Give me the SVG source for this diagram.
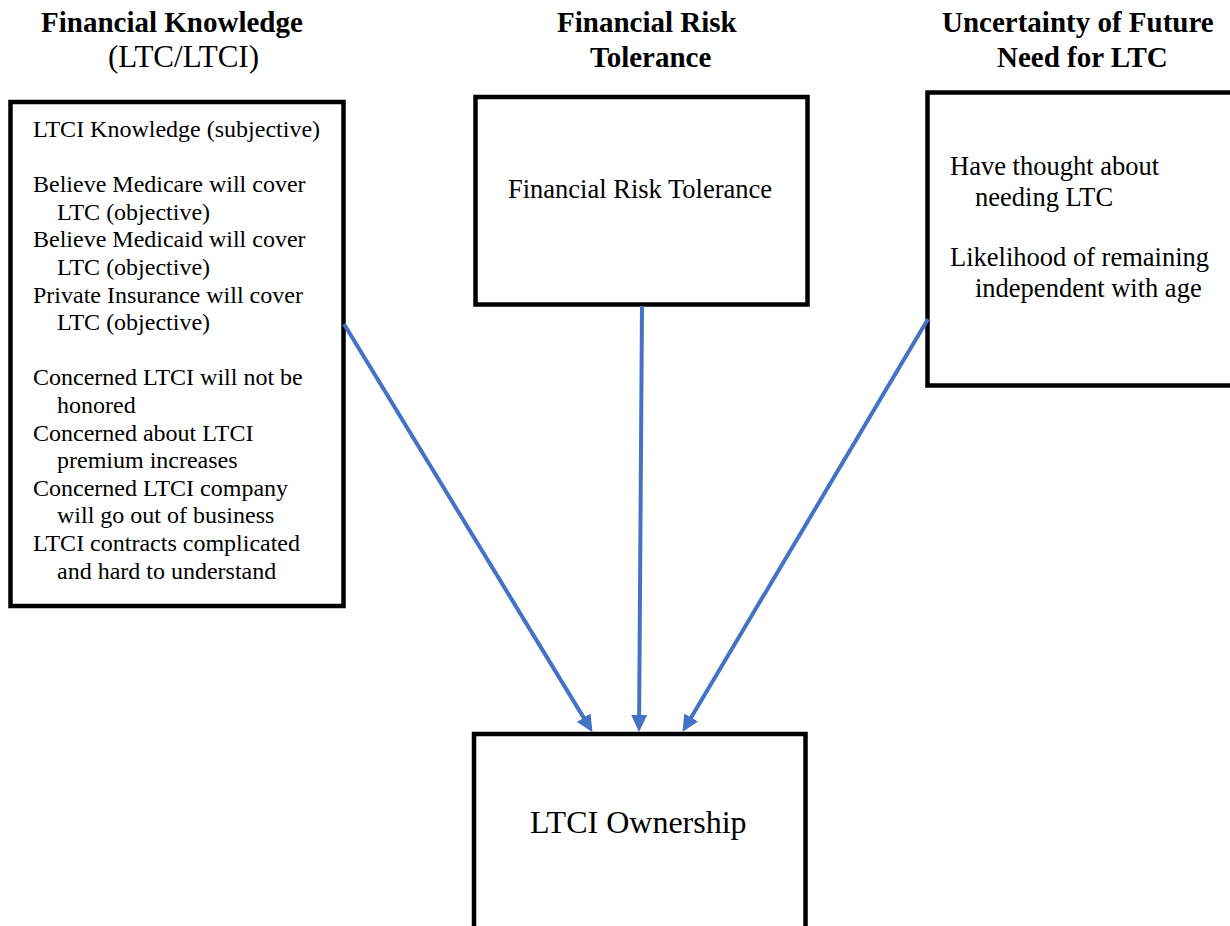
<svg xmlns="http://www.w3.org/2000/svg" width="1230" height="926" viewBox="0 0 1230 926">
<style>
.t{font-family:"Liberation Serif","Times New Roman",serif;fill:#000}
.h{font-weight:bold;font-size:29px}
.box{fill:#fff;stroke:#000;stroke-width:4.5}
.l{font-size:24px}
.r{font-size:26.5px}
.arr{stroke:#4472C4;stroke-width:4;fill:none;marker-end:url(#ah)}
</style>
<defs>
<marker id="ah" markerUnits="userSpaceOnUse" markerWidth="18" markerHeight="16" refX="7" refY="8" orient="auto">
<path d="M0,0 L17,8 L0,16 z" fill="#4472C4"/>
</marker>
</defs>
<rect width="1230" height="926" fill="#fff"/>
<g id="titles">
<text class="t h" x="41" y="32">Financial Knowledge</text>
<text class="t" x="108" y="67" font-size="31">(LTC/LTCI)</text>
<text class="t h" x="557" y="32">Financial Risk</text>
<text class="t h" x="590" y="67">Tolerance</text>
<text class="t h" x="942" y="32">Uncertainty of Future</text>
<text class="t h" x="997" y="67">Need for LTC</text>
</g>
<g id="knowledge">
<rect class="box" x="10.5" y="102" width="333" height="504"/>
<text class="t l" x="33" y="137">LTCI Knowledge (subjective)</text>
<text class="t l" x="33" y="192.2">Believe Medicare will cover</text>
<text class="t l" x="57" y="219.8">LTC (objective)</text>
<text class="t l" x="33" y="247.4">Believe Medicaid will cover</text>
<text class="t l" x="57" y="275">LTC (objective)</text>
<text class="t l" x="33" y="302.6">Private Insurance will cover</text>
<text class="t l" x="57" y="330.2">LTC (objective)</text>
<text class="t l" x="33" y="385.4">Concerned LTCI will not be</text>
<text class="t l" x="57" y="413">honored</text>
<text class="t l" x="33" y="440.6">Concerned about LTCI</text>
<text class="t l" x="57" y="468.2">premium increases</text>
<text class="t l" x="33" y="495.8">Concerned LTCI company</text>
<text class="t l" x="57" y="523.4">will go out of business</text>
<text class="t l" x="33" y="551">LTCI contracts complicated</text>
<text class="t l" x="57" y="578.6">and hard to understand</text>
</g>
<g id="risk">
<rect class="box" x="475.5" y="97" width="332" height="207.5"/>
<text class="t r" x="508" y="198">Financial Risk Tolerance</text>
</g>
<g id="uncertainty">
<rect class="box" x="927.5" y="92.5" width="320" height="293"/>
<text class="t r" x="950" y="175">Have thought about</text>
<text class="t r" x="975" y="205.5">needing LTC</text>
<text class="t r" x="950" y="266">Likelihood of remaining</text>
<text class="t r" x="975" y="296.5">independent with age</text>
</g>
<g id="ownership">
<rect class="box" x="474" y="734" width="331.5" height="210"/>
<text class="t" x="530" y="833" font-size="32">LTCI Ownership</text>
</g>
<g id="connectors">
<line class="arr" x1="344" y1="324" x2="587.3" y2="723.6"/>
<line class="arr" x1="642" y1="306" x2="639.1" y2="722"/>
<line class="arr" x1="928" y1="319" x2="687.6" y2="723.5"/>
</g>
</svg>
